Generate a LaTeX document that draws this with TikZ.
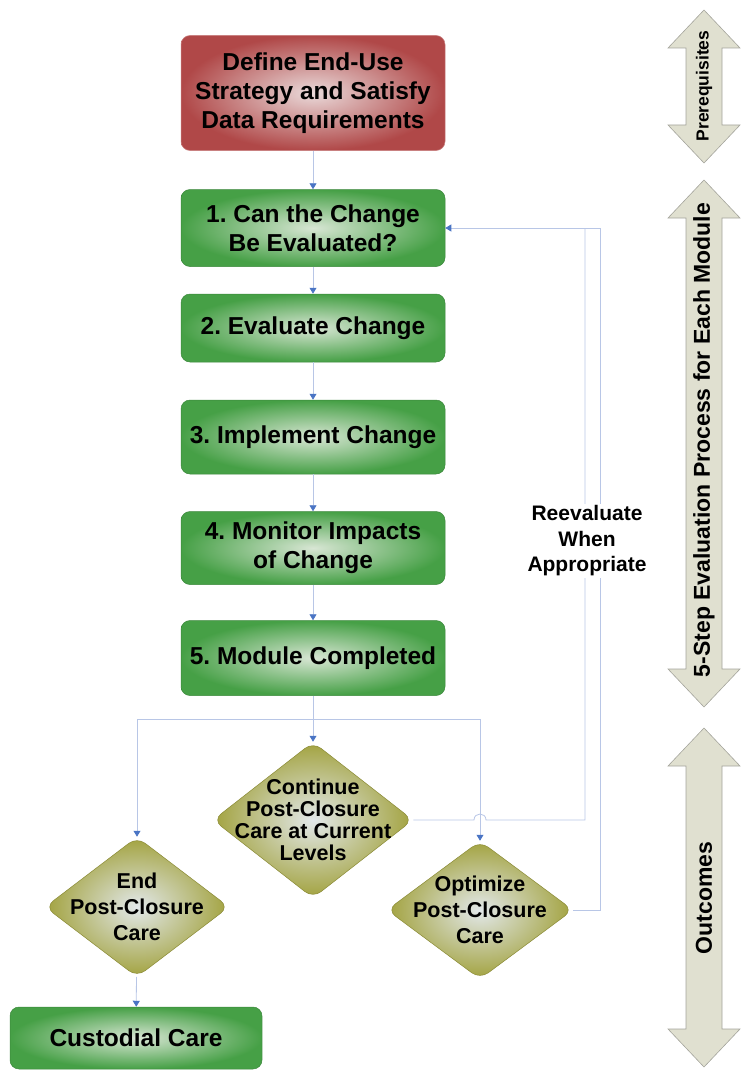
\documentclass[tikz,border=0pt]{standalone}
\usepackage{fontspec}
\setmainfont{Liberation Sans}
\usetikzlibrary{shapes.geometric,arrows.meta}
\frenchspacing

\definecolor{redbox}{HTML}{B04848}
\definecolor{redpale}{HTML}{EADADA}
\definecolor{greenbox}{HTML}{46A046}
\definecolor{greenpale}{HTML}{D8E6D4}
\definecolor{olivebox}{HTML}{A2A23E}
\definecolor{olivepale}{HTML}{E2E8EA}
\definecolor{linkblue}{HTML}{B8C6E6}
\definecolor{tipblue}{HTML}{4A74C4}
\definecolor{sidefill}{HTML}{E0E0D0}
\definecolor{sideedge}{HTML}{A4A49C}

\tikzset{
  stepbox/.style={rectangle, rounded corners=9pt, draw=greenbox!85!black, line width=0.5pt,
    inner color=greenpale, outer color=greenbox, minimum width=264pt, align=center,
    font=\fontsize{24.5}{29}\selectfont\bfseries},
  startbox/.style={stepbox, draw=redbox!70!white, inner color=redpale, outer color=redbox},
  outcome/.style={diamond, rounded corners=10pt, draw=olivebox!85!black, line width=0.5pt,
    inner color=olivepale, outer color=olivebox, inner sep=0pt},
  outtext/.style={align=center, font=\fontsize{21.5}{26}\selectfont\bfseries},
  link/.style={draw=linkblue, line width=0.8pt},
  flow/.style={link, -{Triangle[width=7pt,length=6pt,color=tipblue]}},
  sidearrow/.style={fill=sidefill, draw=sideedge, line width=0.6pt},
  sidetext/.style={rotate=90, font=\fontsize{23}{25}\selectfont\bfseries},
}

% double headed arrow on the right, #1 = top tip, #2 = bottom tip
\newcommand{\sidearr}[2]{%
  \filldraw[sidearrow] (704,#1) -- (740,#1+38) -- (722,#1+38) -- (722,#2-38) -- (740,#2-38)
    -- (704,#2) -- (668,#2-38) -- (686,#2-38) -- (686,#1+38) -- (668,#1+38) -- cycle;}

\begin{document}
\begin{tikzpicture}[x=1pt,y=-1pt]
\useasboundingbox (0,0) rectangle (740,1070);

% side arrows
\sidearr{10}{163}
\node[sidetext, font=\fontsize{17.5}{19}\selectfont\bfseries] (prq) at (704,86) {Prerequisites};
\sidearr{180}{707}
\node[sidetext] (five) at (704,440) {5-Step Evaluation Process for Each Module};
\sidearr{728}{1067}
\node[sidetext] (outc) at (704,898) {Outcomes};

% steps
\node[startbox, minimum height=115pt] (def) at (313,93) {Define End-Use\\Strategy and Satisfy\\Data Requirements};
\node[stepbox, minimum height=77pt] (s1) at (313,228) {1. Can the Change\\Be Evaluated?};
\node[stepbox, minimum height=68pt] (s2) at (313,328) {2. Evaluate Change};
\node[stepbox, minimum height=74pt] (s3) at (313,437) {3. Implement Change};
\node[stepbox, minimum height=73pt] (s4) at (313,548) {4. Monitor Impacts\\of Change};
\node[stepbox, minimum height=75pt] (s5) at (313,658) {5. Module Completed};

% outcomes
\node[outcome, minimum width=200pt, minimum height=156pt] (cont) at (313,820) {};
\node[outtext, font=\fontsize{21.5}{22}\selectfont\bfseries] (conttxt) at (cont) {Continue\\Post-Closure\\Care at Current\\Levels};
\node[outcome, minimum width=184pt, minimum height=140pt] (endc) at (137,907) {};
\node[outtext] (endtxt) at (endc) {End\\Post-Closure\\Care};
\node[outcome, minimum width=186pt, minimum height=138pt] (opt) at (480,910) {};
\node[outtext] (opttxt) at (opt) {Optimize\\Post-Closure\\Care};
\node[stepbox, minimum width=252pt, minimum height=62pt] (cust) at (136,1038) {Custodial Care};

\coordinate (splitL) at (137,719);
\coordinate (splitR) at (480,719);
\coordinate (fbC) at (585,228);
\coordinate (fbO) at (600,228);

\draw[flow] (def) -- (s1);
\draw[flow] (s1) -- (s2);
\draw[flow] (s2) -- (s3);
\draw[flow] (s3) -- (s4);
\draw[flow] (s4) -- (s5);
\draw[flow] (s5) -- (cont);
\draw[link] (splitL) -- (splitR);
\draw[flow] (splitL) -- (endc);
\draw[flow] (splitR) -- (opt);
\draw[flow] (endc) -- (cust);

% reevaluate loops
\draw[link] (cont.east) -- (474,820) .. controls (474,812) and (486,812) .. (486,820) -| (fbC);
\draw[flow] (opt.east) -| (fbO) -- (s1.east);
\node[fill=white, align=center, inner sep=2pt, font=\fontsize{21}{25.5}\selectfont\bfseries] (reval) at (587,541) {Reevaluate\\When\\Appropriate};
\end{tikzpicture}
\end{document}
